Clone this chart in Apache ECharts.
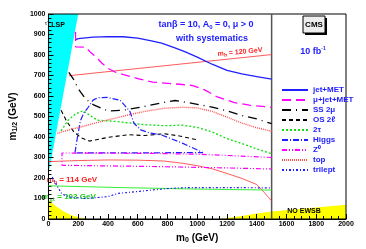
<!DOCTYPE html>
<html><head><meta charset="utf-8">
<script src="https://cdn.jsdelivr.net/npm/echarts@6/dist/echarts.min.js"></script>
<style>html,body{margin:0;padding:0;background:#fff}#c{width:366px;height:249px}</style>
</head><body><div id="c"></div>
<script>
// ---- data (m0, m1/2) in GeV ----
const lspRegion = [[0,1000],[200,1000],[0,220]];
const noEwsbLeft = [[0,0],[0,95],[50,62],[100,38],[150,20],[200,8],[260,0]];
const noEwsbRight = [[1150,0],[1300,15],[1400,27],[1500,37],[2000,70],[2000,0]];
const jetMET = [[180,874],[200,880],[300,887],[400,890],[500,889],[600,882],[700,868],[760,858],[850,835],[920,815],[1000,790],[1100,755],[1200,725],[1300,708],[1400,695],[1500,682]];
const muJetMET = [[182,912],[182,840],[250,838],[280,815],[320,790],[360,760],[400,735],[450,716],[500,705],[600,685],[700,668],[800,662],[900,656],[970,651],[1050,630],[1130,597],[1250,568],[1350,555],[1500,545]];
const ss2mu = [[137,715],[170,680],[200,635],[250,585],[300,558],[400,527],[500,530],[650,550],[750,565],[850,578],[950,566],[1100,546],[1200,528],[1300,505],[1400,488],[1500,465]];
const os2l = [[85,530],[120,480],[170,425],[220,396],[275,380],[330,388],[400,398],[534,411],[645,407],[775,416],[880,405],[1000,386]];
const ditau = [[85,430],[130,480],[180,512],[232,528],[280,505],[330,482],[450,476],[650,460],[780,455],[900,458],[1000,447],[1100,425],[1200,392],[1300,368],[1400,342],[1500,318]];
const higgs = [[178,323],[195,400],[215,480],[240,520],[267,545],[300,580],[332,592],[397,593],[482,579],[547,525],[575,467],[620,435],[680,420],[760,410],[900,370],[1038,324],[700,323],[400,323],[178,323]];
const z0 = [[1500,300],[1200,310],[1000,316],[700,320],[400,321],[91,322],[91,262],[400,259],[700,256],[1000,252],[1200,249],[1500,244]];
const topQ = [[60,418],[150,437],[250,455],[350,475],[450,492],[550,510],[650,525],[775,540],[900,545],[1000,542],[1100,525],[1200,497],[1300,468],[1400,445],[1500,428]];
const trilept = [[25,205],[55,165],[90,122],[150,106],[250,100],[397,109],[470,125],[613,135],[788,148],[918,153],[1200,153],[1500,152]];
const mh120 = [[137,699],[1500,802]];
const mh114 = [[0,280],[200,285],[400,288],[600,287],[775,283],[900,272],[1000,260],[1100,245],[1200,222],[1300,198],[1400,168],[1450,130],[1500,88]];
const chi103 = [[0,162],[500,153],[1000,146],[1500,141]];
const divider = [[1500,0],[1500,1000]];
const legendNames = ['jet+MET','\u03bc+jet+MET','SS 2\u03bc','OS 2\u2113','2\u03c4','Higgs','Z\u2070','top','trilept'];

const FF = '"Liberation Sans", Arial, sans-serif';
const BLUE = '#1c1cff';

function area(pts, color){
  return {type:'custom', silent:true, z:-1, data:[[0,0]],
    renderItem:(p,api)=>({type:'polygon', shape:{points:pts.map(q=>api.coord(q))}, style:{fill:color}})};
}
function ln(name, data, color, width, type){
  return {type:'line', name, data, symbol:'none', showSymbol:false, silent:true, animation:false,
    lineStyle:{color, width, type}, itemStyle:{color}};
}

const chart = echarts.init(document.getElementById('c'), null, {renderer:'canvas'});
chart.setOption({
  animation:false,
  grid:{left:39, right:20, top:14, bottom:26, show:true, borderColor:'#000', borderWidth:1, backgroundColor:'transparent'},
  xAxis:{type:'value', min:0, max:2000, interval:200,
    name:'{a|m}{s|0}{a| (GeV)}', nameLocation:'middle', nameGap:13,
    nameTextStyle:{rich:{a:{fontSize:10, fontWeight:'bold', fontFamily:FF, color:'#000', lineHeight:12}, s:{fontSize:7, fontWeight:'bold', fontFamily:FF, color:'#000', verticalAlign:'bottom'}}},
    axisLine:{lineStyle:{color:'#000'}}, axisTick:{inside:true, length:5, lineStyle:{color:'#000'}},
    minorTick:{show:true, splitNumber:4, length:3, lineStyle:{color:'#000'}},
    splitLine:{show:false}, axisLabel:{fontSize:7, fontWeight:'bold', fontFamily:FF, color:'#000', margin:2, formatter:v=>String(v)}},
  yAxis:{type:'value', min:0, max:1000, interval:100,
    name:'{a|m}{s|1/2}{a| (GeV)}', nameLocation:'middle', nameGap:24, nameRotate:90,
    nameTextStyle:{rich:{a:{fontSize:10, fontWeight:'bold', fontFamily:FF, color:'#000', lineHeight:12}, s:{fontSize:7, fontWeight:'bold', fontFamily:FF, color:'#000', verticalAlign:'bottom'}}},
    axisLine:{lineStyle:{color:'#000'}}, axisTick:{inside:true, length:5, lineStyle:{color:'#000'}},
    minorTick:{show:true, splitNumber:5, length:3, lineStyle:{color:'#000'}},
    splitLine:{show:false}, axisLabel:{fontSize:7, fontWeight:'bold', fontFamily:FF, color:'#000', margin:3, formatter:v=>String(v)}},
  legend:{orient:'vertical', left:276, top:81, itemWidth:26, itemHeight:6, itemGap:2.0, selectedMode:false,
    itemStyle:{opacity:0, borderWidth:0},
    data:legendNames, textStyle:{color:BLUE, fontSize:8, fontWeight:'bold', fontFamily:FF}},
  series:[
    area(lspRegion,'#00ffff'),
    area(noEwsbLeft,'#ffff00'),
    area(noEwsbRight,'#ffff00'),
    ln('divider', divider, '#555', 1.5, 'solid'),
    ln('mh120', mh120, '#ff3030', 0.8, 'solid'),
    ln('mh114', mh114, '#ff3030', 0.8, 'solid'),
    ln('chi103', chi103, '#33ee33', 1, 'solid'),
    ln(legendNames[0], jetMET, '#2020ff', 1.3, 'solid'),
    ln(legendNames[1], muJetMET, '#ff00ff', 1.3, [9,5]),
    ln(legendNames[2], ss2mu, '#000', 1.3, [9,5,1,5]),
    ln(legendNames[3], os2l, '#000', 1.1, [4,3]),
    ln(legendNames[4], ditau, '#11dd11', 1.3, [2,2]),
    ln(legendNames[5], higgs, '#2020ff', 1.2, [6,2,1,2]),
    ln(legendNames[6], z0, '#ff00ff', 1.2, [5,2,1,2,1,2]),
    ln(legendNames[7], topQ, '#ff5050', 1.4, [1,1]),
    ln(legendNames[8], trilept, '#2020ff', 1.2, [2,2,1,2]),
  ],
  graphic:[
    {type:'text', x:206, y:25, style:{text:'{a|tan\u03b2 = 10, A}{s|0}{a| = 0, \u03bc > 0}', align:'center', verticalAlign:'middle',
      rich:{a:{fill:BLUE, fontSize:9, fontWeight:'bold', fontFamily:FF, lineHeight:11}, s:{fill:BLUE, fontSize:6, fontWeight:'bold', fontFamily:FF, verticalAlign:'bottom'}}}},
    {type:'text', x:212, y:39, style:{text:'with systematics', align:'center', verticalAlign:'middle', fill:BLUE, font:'bold 9px '+FF}},
    {type:'text', x:240, y:52, rotation:0.09, style:{text:'{a|m}{s|h}{a| = 120 GeV}', align:'center', verticalAlign:'middle',
      rich:{a:{fill:'#ff2020', fontSize:7, fontWeight:'bold', fontFamily:FF, lineHeight:9}, s:{fill:'#ff2020', fontSize:5, fontWeight:'bold', fontFamily:FF, verticalAlign:'bottom'}}}},
    {type:'text', x:72, y:180, style:{text:'{a|m}{s|h}{a| = 114 GeV}', align:'center', verticalAlign:'middle',
      rich:{a:{fill:'#ff2020', fontSize:8, fontWeight:'bold', fontFamily:FF, lineHeight:10}, s:{fill:'#ff2020', fontSize:5, fontWeight:'bold', fontFamily:FF, verticalAlign:'bottom'}}}},
    {type:'text', x:69, y:197, style:{text:'{a|m}{s|\u03c7\u00b1}{a| = 103 GeV}', align:'center', verticalAlign:'middle',
      rich:{a:{fill:'#22cc22', fontSize:8, fontWeight:'bold', fontFamily:FF, lineHeight:10}, s:{fill:'#22cc22', fontSize:5, fontWeight:'bold', fontFamily:FF, verticalAlign:'bottom'}}}},
    {type:'text', x:46, y:23, style:{text:'\u03c4\u0303', align:'center', verticalAlign:'middle', fill:'#000', font:'6px '+FF}},
    {type:'text', x:58, y:25, style:{text:'LSP', align:'center', verticalAlign:'middle', fill:'#000', font:'bold 7px '+FF}},
    {type:'text', x:304, y:211, style:{text:'NO EWSB', align:'center', verticalAlign:'middle', fill:'#000', font:'bold 7px '+FF}},
    {type:'rect', shape:{x:305, y:18, width:22, height:17}, style:{fill:'#000'}},
    {type:'rect', shape:{x:303, y:16, width:22, height:17}, style:{fill:'#eeeeee', stroke:'#000', lineWidth:1}},
    {type:'text', x:314, y:24.5, style:{text:'CMS', align:'center', verticalAlign:'middle', fill:'#000', font:'bold 8px '+FF}},
    {type:'text', x:313, y:52, style:{text:'{a|10 fb}{s|-1}', align:'center', verticalAlign:'middle',
      rich:{a:{fill:BLUE, fontSize:9, fontWeight:'bold', fontFamily:FF, lineHeight:11}, s:{fill:BLUE, fontSize:5, fontWeight:'bold', fontFamily:FF, verticalAlign:'top'}}}}
  ]
});
</script></body></html>
